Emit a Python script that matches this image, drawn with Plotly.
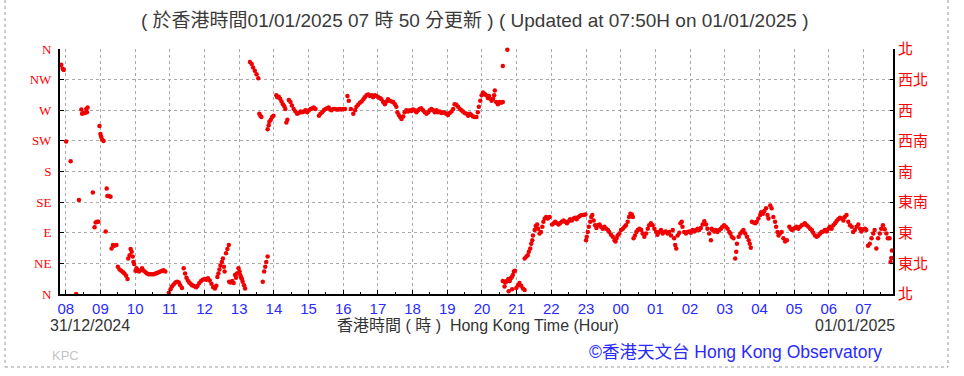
import plotly.graph_objects as go

# ---- data (hours since 00:00 on 31/12/2024, wind direction in degrees) ----
hours = [
    7.84, 7.87, 7.91, 7.94, 8.01, 8.14, 8.30, 8.38,
    8.45, 8.47, 8.51, 8.55, 8.59, 8.61, 8.63, 8.78,
    8.83, 8.86, 8.90, 8.94, 8.97, 9.00, 9.02, 9.05, 9.09, 9.15,
    9.18, 9.20, 9.24, 9.29, 9.32, 9.36, 9.40, 9.46,
    9.50, 9.55, 9.60, 9.65, 9.69, 9.74, 9.78,
    9.80, 9.84, 9.87, 9.90, 9.93, 9.95, 9.97,
    10.01, 10.04, 10.07, 10.11, 10.15, 10.20, 10.25, 10.30, 10.34, 10.39, 10.44, 10.49,
    10.54, 10.59, 10.63, 10.68, 10.73, 10.78, 10.82, 10.87,
    10.97, 11.02, 11.06, 11.11, 11.16, 11.21, 11.26, 11.30, 11.35,
    11.40, 11.44, 11.48, 11.52, 11.56, 11.60, 11.64, 11.68, 11.72, 11.76, 11.80, 11.85,
    11.90, 11.95, 12.00, 12.05, 12.10, 12.15, 12.20, 12.25, 12.30, 12.34,
    12.37, 12.40, 12.43, 12.46, 12.50, 12.53, 12.56, 12.58, 12.62, 12.66, 12.70,
    12.71, 12.75, 12.80, 12.84, 12.88, 12.91, 12.93, 12.98, 13.01, 13.03, 13.05, 13.08, 13.10, 13.14, 13.17,
    13.31, 13.36, 13.40, 13.45, 13.50, 13.55, 13.58, 13.61, 13.64,
    13.68, 13.72, 13.75, 13.78, 13.82,
    13.82, 13.85, 13.87, 13.91, 13.95, 13.99,
    14.07, 14.10, 14.14, 14.18, 14.22, 14.26, 14.30, 14.33, 14.36, 14.39,
    14.43, 14.48, 14.52, 14.57, 14.62, 14.67, 14.72, 14.77, 14.82, 14.87, 14.91, 14.96,
    15.01, 15.06, 15.11, 15.15, 15.20, 15.30, 15.34, 15.39, 15.44, 15.49, 15.54, 15.58,
    15.62, 15.66, 15.71, 15.76, 15.81, 15.86, 15.90, 15.95, 16.00, 16.05,
    16.12, 16.16, 16.22, 16.29, 16.34, 16.38, 16.43, 16.48, 16.53, 16.58, 16.62, 16.67,
    16.72, 16.77, 16.82, 16.86, 16.91, 16.96, 17.01, 17.06, 17.10, 17.15, 17.20, 17.25,
    17.29, 17.34, 17.39, 17.44, 17.49, 17.53, 17.56, 17.60, 17.64, 17.68, 17.73, 17.77,
    17.82, 17.87, 17.92, 17.97, 18.01, 18.06, 18.11, 18.16, 18.20, 18.25, 18.30, 18.35,
    18.40, 18.45, 18.49, 18.54, 18.59, 18.64, 18.69, 18.73, 18.78, 18.83, 18.88, 18.93,
    18.97, 19.02, 19.07, 19.12, 19.17, 19.21, 19.26, 19.31, 19.36, 19.41, 19.45, 19.50,
    19.55, 19.60, 19.65, 19.69, 19.74, 19.79, 19.84, 19.88, 19.91, 19.95, 19.99, 20.03,
    20.08, 20.12, 20.17, 20.20, 20.24, 20.28, 20.32, 20.35, 20.37, 20.41, 20.46, 20.51,
    20.55, 20.60, 20.60, 20.73,
    20.60, 20.65, 20.65, 20.68, 20.72, 20.76, 20.77, 20.80, 20.83, 20.86, 20.87, 20.89,
    20.92, 20.95, 20.99, 21.04, 21.08, 21.13, 21.18, 21.23,
    21.23, 21.28, 21.32, 21.35, 21.39, 21.42, 21.45, 21.47, 21.52, 21.55, 21.59, 21.62,
    21.66, 21.70, 21.74, 21.77, 21.81, 21.85, 21.90, 21.95,
    22.02, 22.07, 22.11, 22.16, 22.21, 22.25, 22.30, 22.35, 22.40, 22.45, 22.50, 22.54,
    22.59, 22.64, 22.69, 22.73, 22.78, 22.83, 22.88, 22.93, 22.98,
    23.00, 23.02, 23.05, 23.08, 23.12, 23.15, 23.18, 23.22, 23.26, 23.30, 23.34, 23.39,
    23.43, 23.48, 23.53, 23.58, 23.63, 23.67, 23.72, 23.77, 23.82, 23.85, 23.88, 23.91,
    23.96, 24.01, 24.06, 24.11, 24.15, 24.20, 24.24, 24.28, 24.32, 24.35,
    24.37, 24.41, 24.45, 24.49, 24.54, 24.59, 24.63, 24.68, 24.73, 24.78, 24.82, 24.87,
    24.92, 24.97, 25.02, 25.06, 25.11, 25.16, 25.21, 25.26, 25.30, 25.35, 25.40, 25.45,
    25.50, 25.54, 25.57, 25.60, 25.64, 25.69, 25.72, 25.76, 25.78, 25.83, 25.88, 25.93,
    25.98, 26.02, 26.07, 26.12, 26.17, 26.22, 26.26, 26.31, 26.36, 26.41, 26.46, 26.50,
    26.55, 26.60, 26.62, 26.65, 26.70, 26.74, 26.79, 26.84, 26.89, 26.93, 26.98, 27.03,
    27.08, 27.13, 27.16, 27.20, 27.25, 27.30, 27.33, 27.35, 27.40, 27.45, 27.50, 27.54,
    27.59, 27.64, 27.69, 27.72, 27.75, 27.78, 27.83, 27.88, 27.92, 27.97, 28.02, 28.05,
    28.10, 28.14, 28.19, 28.23, 28.26, 28.31, 28.35, 28.40, 28.45, 28.48, 28.52, 28.55,
    28.59, 28.64, 28.69, 28.74, 28.79,
    28.86, 28.90, 28.94, 28.98, 29.03, 29.07, 29.12, 29.17, 29.22, 29.27, 29.31, 29.36,
    29.41, 29.46, 29.51, 29.55, 29.60, 29.65, 29.70, 29.75, 29.79, 29.84, 29.89, 29.94,
    29.99, 30.03, 30.08, 30.13, 30.18, 30.22, 30.27, 30.32, 30.37, 30.42, 30.46, 30.51,
    30.56, 30.61, 30.66, 30.70, 30.75, 30.80, 30.85, 30.90, 30.94, 30.99, 31.04, 31.08,
    31.13, 31.18, 31.23, 31.28, 31.32, 31.37, 31.42, 31.47, 31.51, 31.56, 31.61, 31.66,
    31.70, 31.75, 31.78, 31.80, 31.82,
]

direction_deg = [
    336, 337, 331, 329, 224, 195, 0, 138,
    271, 265, 266, 266, 272, 267, 274, 149,
    98, 105, 106, 106, 247, 235, 231, 227, 225, 92,
    155, 144, 144, 143, 67, 72, 71, 72,
    40, 36, 34, 32, 30, 27, 22,
    52, 57, 66, 62, 55, 47, 44,
    34, 38, 34, 33, 35, 38, 34, 32, 30, 29, 29, 29,
    29, 30, 31, 32, 33, 34, 35, 33,
    2, 7, 11, 14, 17, 18, 17, 13, 9,
    38, 30, 24, 20, 17, 15, 13, 12, 11, 10, 12, 16,
    19, 21, 22, 21, 23, 20, 15, 10, 8, 12,
    25, 30, 36, 42, 47, 52, 40, 33, 60, 66, 72,
    18, 17, 19, 16, 28, 24, 30, 38, 33, 28, 25, 22, 18, 13, 8,
    341, 338, 333, 328, 323, 317, 265, 262, 260,
    18, 33, 40, 47, 55,
    242, 248, 253, 256, 260, 262,
    292, 289, 290, 287, 283, 279, 276, 272, 252, 256,
    285, 282, 277, 272, 268, 265, 266, 268, 267, 268, 270, 267,
    270, 272, 273, 274, 272, 262, 265, 267, 270, 272, 273, 274,
    271, 270, 272, 272, 271, 271, 272, 271, 272, 272,
    291, 284, 272, 265, 270, 275, 278, 281, 283, 286, 289, 292,
    293, 291, 292, 289, 292, 291, 289, 288, 286, 282, 279, 283,
    286, 284, 283, 282, 279, 275, 267, 263, 260, 257, 261, 267,
    270, 268, 270, 269, 271, 270, 267, 270, 272, 273, 270, 267,
    265, 267, 270, 272, 270, 267, 270, 267, 268, 266, 267, 266,
    265, 263, 266, 268, 272, 279, 278, 275, 272, 270, 268, 266,
    265, 262, 265, 263, 261, 260, 260, 267, 275, 284, 292, 296,
    294, 292, 288, 291, 287, 284, 287, 292, 299, 282, 279, 282,
    281, 282, 335, 359,
    19, 18, 11, 17, 19, 22, 4, 19, 23, 25, 7, 28,
    33, 34, 9, 13, 16, 12, 8, 6,
    52, 55, 57, 62, 67, 74, 79, 86, 94, 100, 102, 96,
    89, 91, 99, 106, 111, 113, 111, 113,
    102, 104, 106, 104, 102, 104, 106, 108, 106, 104, 107, 110,
    108, 111, 112, 110, 113, 115, 116, 116, 117,
    79, 84, 91, 99, 106, 113, 116, 108, 101, 97, 101, 102,
    99, 96, 99, 96, 94, 91, 87, 84, 79, 77, 82, 86,
    89, 94, 96, 99, 101, 106, 113, 118, 117, 113,
    82, 86, 91, 94, 96, 94, 89, 84, 89, 96, 101, 104,
    101, 96, 91, 87, 91, 94, 89, 91, 92, 89, 91, 86,
    94, 82, 72, 67, 86, 90, 104, 106, 99, 91, 89, 91,
    92, 90, 94, 92, 94, 96, 94, 97, 102, 107, 102, 96,
    89, 79, 96, 94, 92, 94, 91, 94, 96, 99, 101, 99,
    96, 91, 89, 84, 82, 52, 62, 74, 84, 89, 92, 94,
    89, 84, 79, 74, 68, 106, 105, 104, 106, 111, 116, 120,
    118, 122, 126, 116, 111, 130, 126, 113, 106, 99, 91, 86,
    89, 91, 82, 77, 79,
    99, 96, 94, 96, 97, 99, 96, 99, 101, 102, 104, 101,
    99, 96, 94, 90, 86, 84, 86, 89, 91, 92, 94, 92,
    96, 99, 96, 101, 104, 107, 110, 112, 111, 108, 113, 116,
    106, 101, 99, 91, 94, 99, 102, 96, 92, 95, 96, 94,
    71, 74, 82, 89, 94, 67, 82, 89, 96, 101, 95, 89,
    82, 82, 47, 53, 64,
]

dir_ticks = [0, 45, 90, 135, 180, 225, 270, 315, 360]
dir_labels_en = ["N", "NE", "E", "SE", "S", "SW", "W", "NW", "N"]
dir_labels_zh = ["北", "東北", "東", "東南", "南", "西南", "西", "西北", "北"]

hour_ticks = [8, 9, 10, 11, 12, 13, 14, 15, 16, 17, 18, 19,
              20, 21, 22, 23, 24, 25, 26, 27, 28, 29, 30, 31]
hour_labels = ["08", "09", "10", "11", "12", "13", "14", "15", "16", "17", "18", "19",
               "20", "21", "22", "23", "00", "01", "02", "03", "04", "05", "06", "07"]
hour_minor = [8.5, 9.5, 10.5, 11.5, 12.5, 13.5, 14.5, 15.5, 16.5, 17.5, 18.5, 19.5,
              20.5, 21.5, 22.5, 23.5, 24.5, 25.5, 26.5, 27.5, 28.5, 29.5, 30.5, 31.5]

x_range = [7 + 50 / 60, 31 + 51 / 60]

title_text = "( 於香港時間01/01/2025 07 時 50 分更新 ) ( Updated at 07:50H on 01/01/2025 )"
date_left = "31/12/2024"
date_right = "01/01/2025"
axis_title = "香港時間 ( 時 )  Hong Kong Time (Hour)"
credit = "©香港天文台 Hong Kong Observatory"

SANS = "Liberation Sans, Arial, Noto Sans CJK TC, sans-serif"
CJK = "Noto Sans CJK TC, Liberation Sans, sans-serif"

fig = go.Figure()
fig.add_trace(go.Scatter(
    x=hours, y=direction_deg, mode="markers",
    marker=dict(color="#f00000", size=4.5, line=dict(width=0)),
    cliponaxis=False, hoverinfo="skip", showlegend=False,
))
fig.add_trace(go.Scatter(
    x=[hours[0]], y=[direction_deg[0]], yaxis="y2", mode="markers",
    marker=dict(opacity=0), hoverinfo="skip", showlegend=False,
))

grid = dict(showgrid=True, gridcolor="#a9a9a9", griddash="dot", gridwidth=1)

fig.update_layout(
    width=964, height=376,
    margin=dict(l=60, r=71, t=49, b=82),
    paper_bgcolor="white", plot_bgcolor="white",
    xaxis=dict(
        range=x_range, tickmode="array", tickvals=hour_ticks, ticktext=hour_labels,
        tickfont=dict(color="#2a2aff", size=15, family=SANS),
        showline=True, linecolor="black", linewidth=2,
        ticks="inside", ticklen=4, tickcolor="black", tickwidth=1,
        minor=dict(tickmode="array", tickvals=hour_minor, ticks="inside",
                   ticklen=2, tickcolor="black", showgrid=False),
        zeroline=False, **grid,
    ),
    yaxis=dict(
        range=[0, 360], tickmode="array", tickvals=dir_ticks, ticktext=dir_labels_en,
        tickfont=dict(color="#ff0000", size=13, family="Liberation Serif, serif"),
        ticklabelstandoff=4,
        showline=True, linecolor="black", linewidth=2,
        ticks="inside", ticklen=4, tickcolor="black",
        zeroline=False, **grid,
    ),
    yaxis2=dict(
        range=[0, 360], overlaying="y", side="right", tickmode="array",
        tickvals=dir_ticks, ticktext=dir_labels_zh,
        tickfont=dict(color="#ff0000", size=15, family=CJK),
        showline=True, linecolor="black", linewidth=2,
        ticks="inside", ticklen=3, tickcolor="black",
        showgrid=False, zeroline=False,
    ),
    shapes=[
        dict(type="line", xref="paper", yref="paper", x0=-0.066, x1=-0.066, y0=1.2, y1=-0.298,
             line=dict(color="#9a9a9a", width=1, dash="dot")),
        dict(type="line", xref="paper", yref="paper", x0=-0.066, x1=1.066, y0=-0.298, y1=-0.298,
             line=dict(color="#9a9a9a", width=1, dash="dot")),
        dict(type="line", xref="paper", yref="paper", x0=1.066, x1=1.066, y0=1.2, y1=-0.298,
             line=dict(color="#9a9a9a", width=1, dash="dot")),
    ],
    annotations=[
        dict(text=title_text, xref="paper", yref="paper", x=0.498, y=1.118,
             xanchor="center", yanchor="middle", showarrow=False,
             font=dict(size=19, color="#3a3a3a", family=SANS)),
        dict(text=date_left, xref="paper", yref="paper", x=-0.0144, y=-0.1306,
             xanchor="left", yanchor="middle", showarrow=False,
             font=dict(size=16, color="#333333", family=SANS)),
        dict(text=axis_title, xref="paper", yref="paper", x=0.5018, y=-0.1306,
             xanchor="center", yanchor="middle", showarrow=False,
             font=dict(size=16, color="#333333", family=SANS)),
        dict(text=date_right, xref="paper", yref="paper", x=1.0048, y=-0.1306,
             xanchor="right", yanchor="middle", showarrow=False,
             font=dict(size=16, color="#333333", family=SANS)),
        dict(text="KPC", xref="paper", yref="paper", x=-0.012, y=-0.249,
             xanchor="left", yanchor="middle", showarrow=False,
             font=dict(size=13, color="#c4c4c4", family=SANS)),
        dict(text=credit, xref="paper", yref="paper", x=0.989, y=-0.237,
             xanchor="right", yanchor="middle", showarrow=False,
             font=dict(size=17.5, color="#2a2aff", family=SANS)),
    ],
)

fig.write_html("out.html")
